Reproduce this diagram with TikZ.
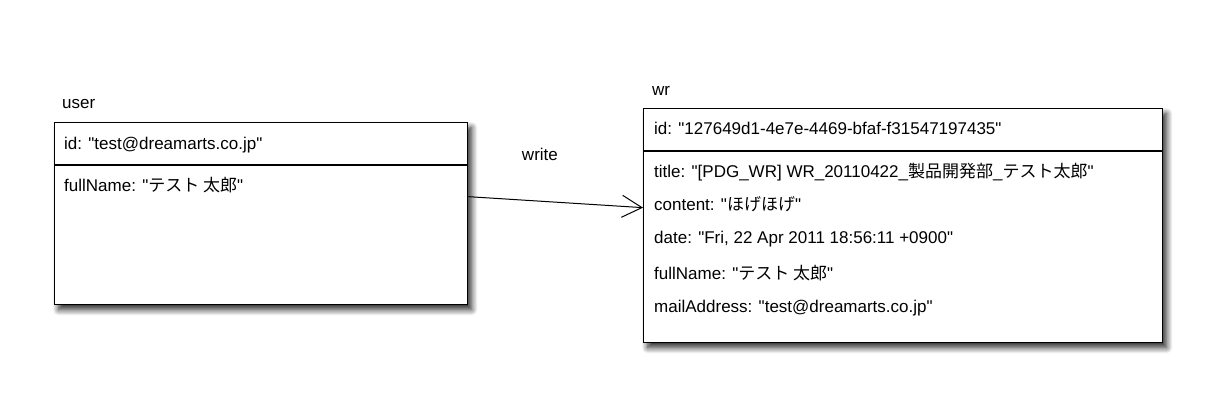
\documentclass[tikz,border=0pt]{standalone}
\usepackage{fontspec}
\newfontfamily\arial{Liberation Sans}
\newfontfamily\jp{Noto Sans CJK JP}
\usetikzlibrary{arrows.meta,shadows.blur}
\begin{document}
\begin{tikzpicture}[x=1pt,y=-1pt,
  box/.style={draw, line width=1.3pt, fill=white, inner sep=0pt, anchor=north west,
    blur shadow={shadow xshift=4pt, shadow yshift=-5pt, shadow blur steps=10, shadow opacity=85, shadow blur radius=6pt}},
  field/.style={anchor=west, inner sep=0pt, font=\arial\fontsize{17}{20}\selectfont},
  lbl/.style={anchor=west, inner sep=0pt, font=\arial\fontsize{17}{20}\selectfont},
  sep/.style={line width=1.3pt}]
\useasboundingbox (0,0) rectangle (1220,416);
% user box
\node[box, minimum width=413pt, minimum height=182pt] (user) at (54,122) {};
\node[lbl] (userlbl) at (62,104) {user};
\coordinate (ua) at (54,165);
\coordinate (ub) at (467,165);
\draw[sep] (ua) -- (ub);
\node[field] (uid) at (64,145) {id: "test@dreamarts.co.jp"};
\node[field] (ufn) at (64,185) {fullName: "{\jp テスト 太郎}"};
% wr box
\node[box, minimum width=519pt, minimum height=234pt] (wr) at (643,108) {};
\node[lbl] (wrlbl) at (652,91) {wr};
\coordinate (wa) at (643,151);
\coordinate (wb) at (1162,151);
\draw[sep] (wa) -- (wb);
\node[field] (wid) at (654,128) {id: "127649d1-4e7e-4469-bfaf-f31547197435"};
\node[field] (wtitle) at (654,172) {title: "[PDG\_WR] WR\_20110422\_{\jp 製品開発部}\_{\jp テスト太郎}"};
\node[field] (wcont) at (654,204) {content: "{\jp ほげほげ}"};
\node[field] (wdate) at (654,239) {date: "Fri, 22 Apr 2011 18:56:11 +0900"};
\node[field] (wfn) at (654,273) {fullName: "{\jp テスト 太郎}"};
\node[field] (wmail) at (654,308) {mailAddress: "test@dreamarts.co.jp"};
% connector
\draw[line width=1pt, -{Straight Barb[length=20pt,width=22pt,line width=1pt]}]
  ([yshift=17pt]user.east) -- ([yshift=18pt]wr.west)
  node[pos=0.41, above=40pt, inner sep=0pt, font=\arial\fontsize{17}{20}\selectfont] (wlbl) {write};
\end{tikzpicture}
\end{document}
